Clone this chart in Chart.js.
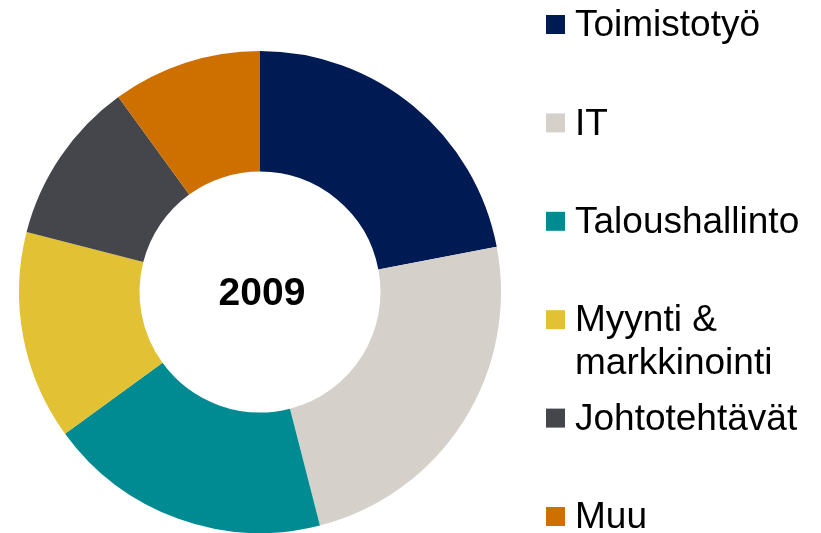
<!DOCTYPE html>
<html>
<head>
<meta charset="utf-8">
<script src="https://cdn.jsdelivr.net/npm/chart.js@4.4.1/dist/chart.umd.min.js"></script>
<style>
  html, body { margin: 0; padding: 0; background: #fff; }
  #wrap { width: 821px; height: 533px; position: relative; }
</style>
</head>
<body>
<div id="wrap"><canvas id="jobChart"></canvas></div>
<script>
// Chart data (share of jobs, %, 2009)
const categories = ['Toimistotyö', 'IT', 'Taloushallinto', 'Myynti & markkinointi', 'Johtotehtävät', 'Muu'];
const shares = [22, 24, 19, 14, 11, 10];
const sliceColors = ['#001B54', '#D5D1CA', '#008A91', '#E2C234', '#45464B', '#CD7000'];
const centerLabel = '2009';

const FONT = '"Liberation Sans", Arial, sans-serif';

// center text "2009"
const centerText = {
    id: 'centerText',
    afterDatasetsDraw(chart) {
        const arc = chart.getDatasetMeta(0).data[0];
        if (!arc) return;
        const ctx = chart.ctx;
        ctx.save();
        ctx.font = 'bold 39px ' + FONT;
        ctx.fillStyle = '#000';
        ctx.textAlign = 'center';
        ctx.textBaseline = 'middle';
        ctx.fillText(centerLabel, arc.x + 2, arc.y + 2);
        ctx.restore();
    }
};

// legend on the right, drawn by hand so long labels can wrap
const sideLegend = {
    id: 'sideLegend',
    afterDraw(chart) {
        const ctx = chart.ctx;
        const labels = chart.data.labels;
        const colors = chart.data.datasets[0].backgroundColor;
        const boxX = 546, textX = 575, maxW = 244;
        const top = 24, step = 98.4, lineH = 43;
        ctx.save();
        ctx.font = '37px ' + FONT;
        ctx.textBaseline = 'middle';
        ctx.textAlign = 'left';
        labels.forEach((label, i) => {
            const y = top + i * step;
            ctx.fillStyle = colors[i];
            ctx.fillRect(boxX, y - 9, 19, 19);

            // simple word wrap
            const words = label.split(' ');
            const lines = [];
            let cur = '';
            words.forEach(w => {
                const test = cur ? cur + ' ' + w : w;
                if (cur && ctx.measureText(test).width > maxW) {
                    lines.push(cur);
                    cur = w;
                } else {
                    cur = test;
                }
            });
            if (cur) lines.push(cur);

            ctx.fillStyle = '#000';
            lines.forEach((ln, j) => ctx.fillText(ln, textX, y + 2 + j * lineH));
        });
        ctx.restore();
    }
};

new Chart(document.getElementById('jobChart'), {
    type: 'doughnut',
    data: {
        labels: categories,
        datasets: [{
            data: shares,
            backgroundColor: sliceColors,
            borderWidth: 0
        }]
    },
    options: {
        responsive: true,
        maintainAspectRatio: false,
        animation: false,
        cutout: '50%',
        layout: { padding: { left: 19, top: 51, right: 320, bottom: 0 } },
        plugins: {
            legend: { display: false },
            tooltip: { enabled: false }
        }
    },
    plugins: [centerText, sideLegend]
});
</script>
</body>
</html>
